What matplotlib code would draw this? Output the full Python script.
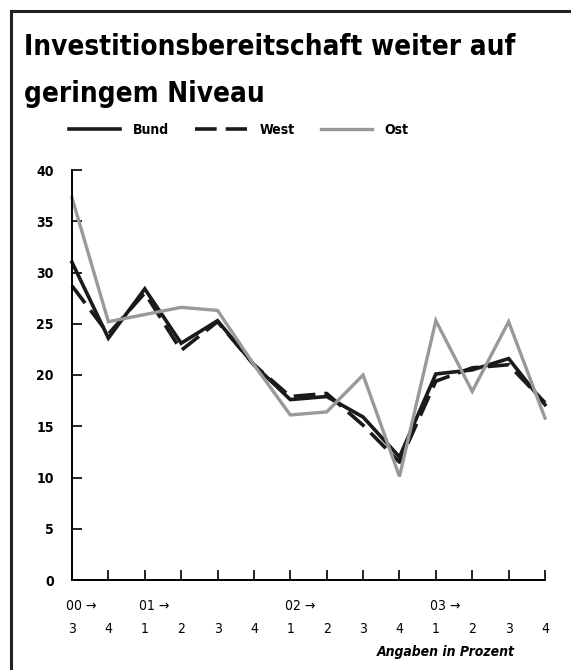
import matplotlib.pyplot as plt
from matplotlib.lines import Line2D

plt.rcParams['font.family'] = ['DejaVu Sans']
plt.rcParams['font.stretch'] = 'condensed'

# Daten
quartale = ['3', '4', '1', '2', '3', '4', '1', '2', '3', '4', '1', '2', '3', '4']
jahre = {0: '00 \u2192', 2: '01 \u2192', 6: '02 \u2192', 10: '03 \u2192'}
bund = [31.0, 23.6, 28.4, 23.1, 25.3, 21.0, 17.6, 17.9, 15.9, 12.0, 20.1, 20.5, 21.6, 17.1]
west = [28.7, 24.0, 28.0, 22.4, 25.2, 21.0, 17.9, 18.2, 15.1, 11.5, 19.4, 20.7, 21.0, 17.3]
ost = [37.3, 25.2, 25.9, 26.6, 26.3, 21.0, 16.1, 16.4, 20.0, 10.1, 25.3, 18.4, 25.2, 15.8]
x = list(range(len(quartale)))

fig = plt.figure(figsize=(5.71, 6.70), dpi=100)
ax = fig.add_axes([72 / 571, 90 / 670, 473 / 571, 410 / 670])

l1, = ax.plot(x, bund, color='#1a1a1a', lw=2.6, clip_on=False, solid_joinstyle='miter', label='Bund')
l2, = ax.plot(x, west, color='#1a1a1a', lw=2.6, dashes=(6, 2.5), clip_on=False, label='West')
l3, = ax.plot(x, ost, color='#999999', lw=2.4, clip_on=False, solid_joinstyle='miter', label='Ost')

ax.set_xlim(0, 13)
ax.set_ylim(0, 40)
for s in ['top', 'right']:
    ax.spines[s].set_visible(False)
for s in ['left', 'bottom']:
    ax.spines[s].set_linewidth(1.4)
ax.set_yticks(range(0, 41, 5))
ax.set_yticklabels([str(v) for v in range(0, 41, 5)], fontsize=10, fontweight='bold')
ax.tick_params(axis='y', direction='in', length=7, width=1.2, pad=13)
ax.set_xticks(x)
ax.set_xticklabels([])
ax.tick_params(axis='x', direction='in', length=7, width=1.2)

# Quartale und Jahre
for i, q in enumerate(quartale):
    ax.annotate(q, (i, 0), xytext=(0, -35), textcoords='offset points',
                ha='center', va='center', fontsize=10, annotation_clip=False)
for i, j in jahre.items():
    ax.annotate(j, (i, 0), xytext=(-4, -19), textcoords='offset points',
                ha='left', va='center', fontsize=10, annotation_clip=False)

fig.text(515 / 571, 1 - 652 / 670, 'Angaben in Prozent', ha='right', va='center',
         fontsize=10, fontweight='bold', style='italic')

# Titel
fig.text(24 / 571, 1 - 55 / 670, 'Investitionsbereitschaft weiter auf',
         ha='left', va='baseline', fontsize=20, fontweight='bold')
fig.text(24 / 571, 1 - 102 / 670, 'geringem Niveau',
         ha='left', va='baseline', fontsize=20, fontweight='bold')

fig.legend(handles=[l1, l2, l3], loc='center left', bbox_to_anchor=(62 / 571, 1 - 130 / 670),
           ncol=3, frameon=False, handlelength=3.7, handletextpad=0.9, columnspacing=1.9,
           borderpad=0, prop={'weight': 'bold', 'size': 10})

# Rahmen
fig.add_artist(Line2D([11 / 571, 11 / 571], [0, 1 - 11 / 670], color='#222222', lw=2.2))
fig.add_artist(Line2D([11 / 571, 1], [1 - 11 / 670, 1 - 11 / 670], color='#222222', lw=2.2))

fig.savefig('out.png', dpi=100)
